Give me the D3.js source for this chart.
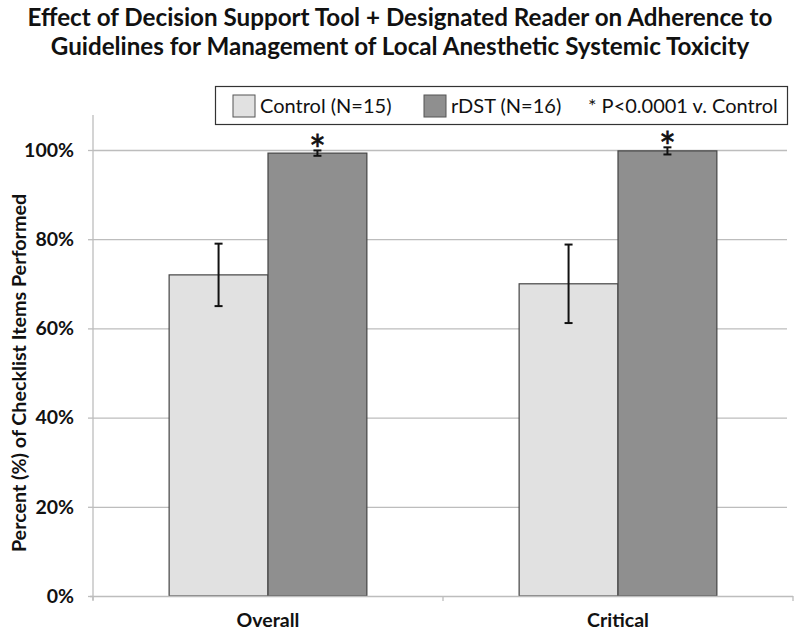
<!DOCTYPE html>
<html>
<head>
<meta charset="utf-8">
<script src="https://cdn.jsdelivr.net/npm/d3@7"></script>
<style>
  body { margin: 0; background: #fff; }
  svg { font-family: Lato, "Open Sans", sans-serif; }
</style>
</head>
<body>
<svg id="chart" width="800" height="635"></svg>
<script>
// data
const categories = ["Overall", "Critical"];
const groups = ["Control (N=15)", "rDST (N=16)"];
const controlMean = [72.0, 70.0];
const controlErr = [7.0, 8.8];
const rdstMean = [99.3, 99.8];
const rdstErr = [0.6, 0.8];
const yTicks = [0, 20, 40, 60, 80, 100];
const titleLines = [
  "Effect of Decision Support Tool + Designated Reader on Adherence to",
  "Guidelines for Management of Local Anesthetic Systemic Toxicity"
];
const colors = ["#e1e1e1", "#8f8f8f"];

const rows = categories.map((c, i) => ({
  cat: c,
  vals: [
    { g: 0, v: controlMean[i], e: controlErr[i] },
    { g: 1, v: rdstMean[i], e: rdstErr[i] }
  ]
}));

const plotLeft = 93, plotRight = 793, plotTop = 115, plotBottom = 596;

const svg = d3.select("#chart");

const x = d3.scaleBand().domain(categories).range([plotLeft, plotRight]).paddingInner(0).paddingOuter(0);
const xInner = d3.scaleBand().domain([0, 1]).range([0, x.bandwidth()]).paddingInner(0).paddingOuter(0.77);
const y = d3.scaleLinear().domain([0, 100]).range([plotBottom, 150]);

// title
svg.append("g").selectAll("text").data(titleLines).join("text")
  .attr("x", 400).attr("y", (d, i) => 26 + i * 29)
  .attr("text-anchor", "middle")
  .attr("font-weight", "bold").attr("font-size", 24.2)
  .attr("fill", "#111")
  .text(d => d);

// gridlines
svg.append("g").selectAll("line").data(yTicks.slice(1)).join("line")
  .attr("x1", plotLeft).attr("x2", plotRight - 6)
  .attr("y1", d => y(d) + 0.5).attr("y2", d => y(d) + 0.5)
  .attr("stroke", "#bdbdbd").attr("stroke-width", 1.3);

// y axis
const yAxis = d3.axisLeft(y).tickValues(yTicks).tickSize(5).tickFormat(d => d + "%");
const gy = svg.append("g").attr("transform", `translate(${plotLeft},0)`).call(yAxis);
gy.select(".domain").remove();
gy.append("line").attr("x1", 0).attr("x2", 0).attr("y1", plotTop).attr("y2", plotBottom + 4)
  .attr("stroke", "#bdbdbd").attr("stroke-width", 1.3);
gy.selectAll(".tick line").attr("stroke", "#bdbdbd").attr("stroke-width", 1.3);
gy.selectAll(".tick text")
  .attr("x", -19).attr("font-size", 19.5).attr("font-weight", "bold")
  .attr("font-family", "Lato, sans-serif").attr("fill", "#111");

// bars
const gBars = svg.append("g").selectAll("g").data(rows).join("g")
  .attr("transform", d => `translate(${x(d.cat)},0)`);

gBars.selectAll("rect").data(d => d.vals).join("rect")
  .attr("x", d => xInner(d.g)).attr("width", xInner.bandwidth())
  .attr("y", d => y(d.v)).attr("height", d => y(0) - y(d.v))
  .attr("fill", d => colors[d.g])
  .attr("stroke", "#444").attr("stroke-width", 1.2);

// error bars
gBars.each(function(row) {
  const g = d3.select(this);
  row.vals.forEach(d => {
    const cx = xInner(d.g) + xInner.bandwidth() / 2;
    g.append("line").attr("x1", cx).attr("x2", cx)
      .attr("y1", y(d.v + d.e)).attr("y2", y(d.v - d.e))
      .attr("stroke", "#111").attr("stroke-width", 2);
    [d.v + d.e, d.v - d.e].forEach(v => {
      g.append("line").attr("x1", cx - 4).attr("x2", cx + 4)
        .attr("y1", y(v)).attr("y2", y(v))
        .attr("stroke", "#111").attr("stroke-width", 2);
    });
  });
  // significance mark
  const r = row.vals[1];
  g.append("text")
    .attr("x", xInner(1) + xInner.bandwidth() / 2)
    .attr("y", y(r.v + r.e) + 15)
    .attr("text-anchor", "middle")
    .attr("font-size", 40).attr("fill", "#111")
    .attr("stroke", "#111").attr("stroke-width", 0.6)
    .text("*");
});

// x axis
svg.append("line").attr("x1", plotLeft - 3).attr("x2", plotRight).attr("y1", plotBottom + 0.5).attr("y2", plotBottom + 0.5)
  .attr("stroke", "#bdbdbd").attr("stroke-width", 1.3);
const xTickPos = [plotLeft, plotLeft + x.step(), plotRight];
svg.append("g").selectAll("line").data(xTickPos).join("line")
  .attr("x1", d => d).attr("x2", d => d).attr("y1", plotBottom).attr("y2", plotBottom + 5)
  .attr("stroke", "#bdbdbd").attr("stroke-width", 1.3);
svg.append("g").selectAll("text").data(categories).join("text")
  .attr("x", d => x(d) + x.bandwidth() / 2).attr("y", 627)
  .attr("text-anchor", "middle").attr("font-size", 19.5).attr("font-weight", "bold")
  .attr("fill", "#111")
  .text(d => d);

// y axis title
svg.append("text")
  .attr("transform", "translate(26,373) rotate(-90)")
  .attr("text-anchor", "middle").attr("font-size", 19.7).attr("font-weight", "bold")
  .attr("fill", "#111")
  .text("Percent (%) of Checklist Items Performed");

// legend
const legend = svg.append("g");
legend.append("rect").attr("x", 215.5).attr("y", 86.5).attr("width", 572).attr("height", 38)
  .attr("fill", "#fff").attr("stroke", "#333").attr("stroke-width", 1.2);
const legX = [233, 424];
legend.selectAll("rect.sw").data(groups).join("rect").attr("class", "sw")
  .attr("x", (d, i) => legX[i]).attr("y", 95).attr("width", 22).attr("height", 22)
  .attr("fill", (d, i) => colors[i]).attr("stroke", "#555").attr("stroke-width", 1);
legend.selectAll("text.lt").data(groups).join("text").attr("class", "lt")
  .attr("x", (d, i) => legX[i] + 27).attr("y", 113)
  .attr("font-size", 20).attr("fill", "#111")
  .text(d => d);
legend.append("text").attr("x", 588).attr("y", 113)
  .attr("font-size", 20).attr("fill", "#111")
  .text("* P<0.0001 v. Control");
</script>
</body>
</html>
